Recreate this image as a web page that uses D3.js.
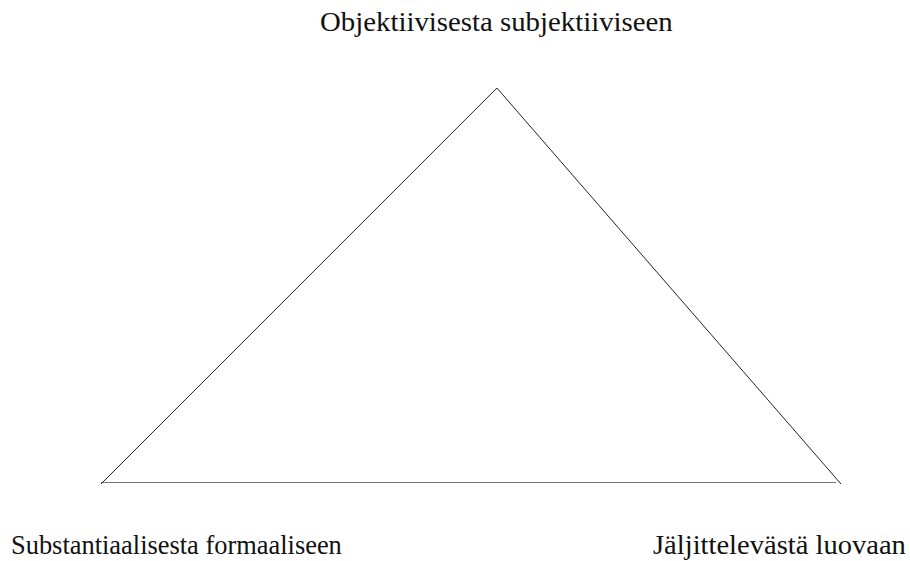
<!DOCTYPE html>
<html><head><meta charset="utf-8">
<script src="https://cdn.jsdelivr.net/npm/d3@7"></script>
</head><body style="margin:0">
<svg id="c" width="910" height="561"></svg>
<script>
const labels = ["Substantiaalisesta formaaliseen", "Objektiivisesta subjektiiviseen", "Jäljittelevästä luovaan"];
const vertexX = [0, 0.535, 1];
const vertexY = [0, 1, 0];

const svg = d3.select("#c");
const x = d3.scaleLinear().domain([0, 1]).range([101, 841]);
const y = d3.scaleLinear().domain([0, 1]).range([484, 88]);
const pts = vertexX.map((v, i) => [x(v), y(vertexY[i])]);

svg.append("line")
  .attr("x1", x(0)).attr("x2", x(1) - 5)
  .attr("y1", y(0) - 1.5).attr("y2", y(0) - 1.5)
  .attr("stroke", "#777").attr("stroke-width", 1);
svg.append("path")
  .attr("d", d3.line()([pts[0], pts[1], pts[2]]))
  .attr("fill", "none").attr("stroke", "#222").attr("stroke-width", 1);

function label(txt, xPos, yPos, w) {
  const t = svg.append("text").attr("x", 0).attr("y", 0)
    .style("font-family", "Times, Tinos, 'Liberation Serif', serif").style("font-size", "27px")
    .style("fill", "#111")
    .text(txt);
  const nat = t.node().getComputedTextLength();
  const sx = nat > 0 ? w / nat : 1;
  t.attr("transform", `translate(${xPos},${yPos}) scale(${sx},1)`);
}
label(labels[1], 320, 31, 353);
label(labels[0], 11, 554, 331);
label(labels[2], 653, 554, 253);
</script>
</body></html>
